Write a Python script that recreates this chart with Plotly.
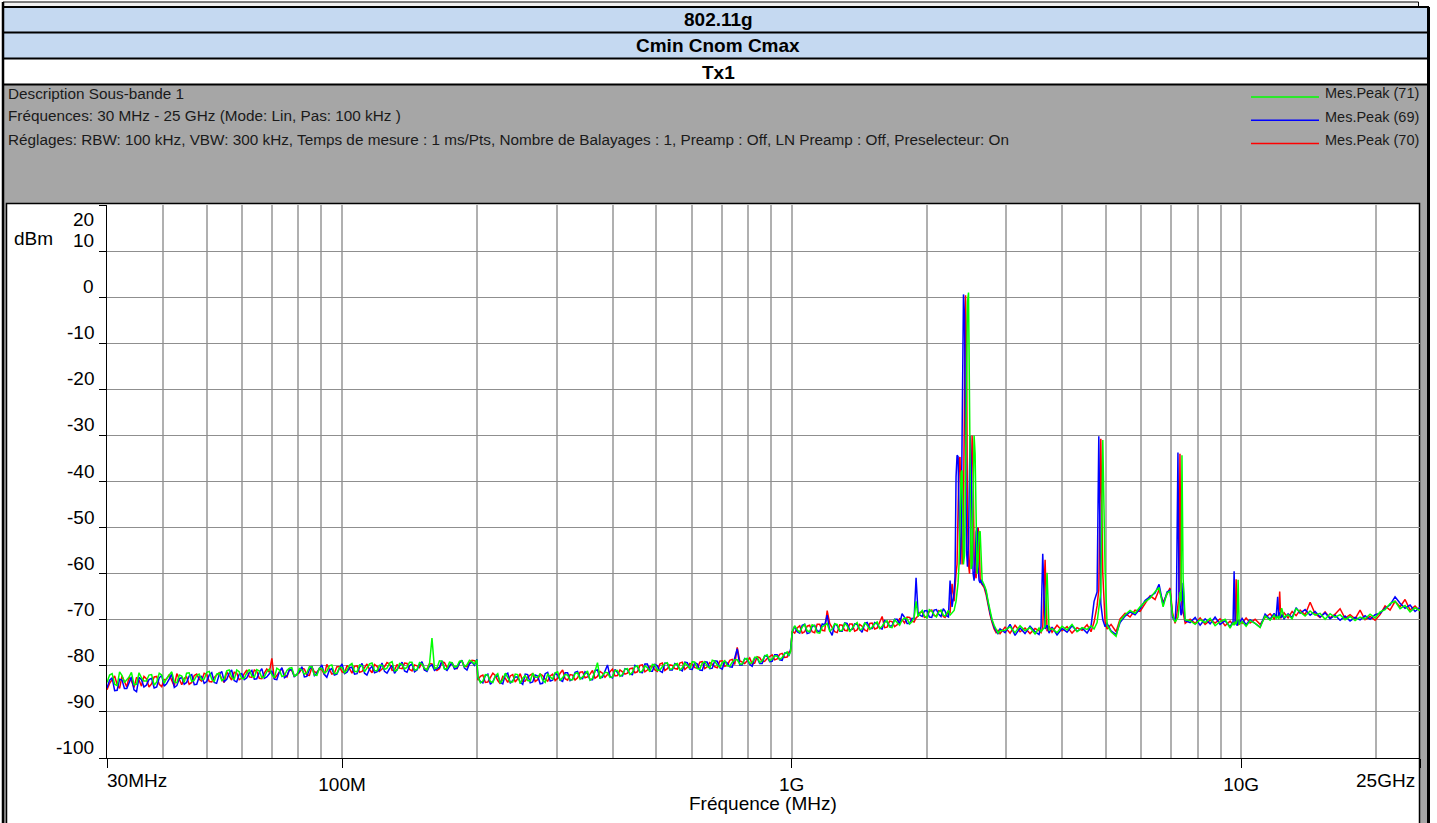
import math
import plotly.graph_objects as go

W, H = 1437, 823
FONT = "Liberation Sans, Arial, sans-serif"


def px(x):
    return x / W


def py(y):
    return 1 - y / H


# ---------------- data (frequency in MHz, level in dBm) ----------------
freq_low = [30, 30.8, 31.6, 32.4, 33.2, 34, 34.9, 35.8, 36.7, 37.7, 38.7, 39.7, 40.7, 41.8, 42.9,
            44, 45.1, 46.3, 47.5, 48.7, 50, 51.3, 52.6, 54, 55.4, 56.8, 58.3, 59.8, 61.4, 63,
            64.6, 66.3, 68, 69.8, 71.6, 73.5, 75.4, 77.3, 79.3, 81.4, 83.5, 85.7, 87.9, 90.2,
            92.5, 94.9, 97.4, 100, 102.6, 105.2, 108, 110.8, 113.6, 116.6, 119.6, 122.7, 125.9,
            129.2, 132.5, 136, 139.5, 143.1, 146.8, 150.6, 154.5, 158.5, 162.6, 166.8, 171.2,
            175.6, 180.2, 184.8, 189.6, 194.5, 199.5]
freq_low_b = [30.4, 31.2, 32.0, 32.8, 33.6, 34.45, 35.35, 36.25, 37.2, 38.2, 39.2, 40.2, 41.25,
              42.35, 43.45, 44.55, 45.7, 46.9, 48.1, 49.35, 50.65, 51.95, 53.3, 54.7, 56.1, 57.55,
              59.05, 60.6, 62.2, 63.8, 65.45, 67.15, 68.9, 70.7, 72.55, 74.45, 76.35, 78.3, 80.35,
              82.45, 84.6, 86.8, 89.05, 91.35, 93.7, 96.15, 98.7, 101.3, 103.9, 106.6, 109.4,
              112.2, 115.1, 118.1, 121.15, 124.3, 127.55, 130.85, 134.25, 137.75, 141.3, 144.95,
              148.7, 152.55, 156.5, 160.55, 164.7, 169.0, 173.4, 177.9, 182.5, 187.2, 192.05, 197.0]
freq_mid = [200.5, 205.7, 211, 216.5, 222, 227.8, 233.7, 239.7, 245.9, 252.3, 258.8, 265.5, 272.4,
            279.4, 286.7, 294.1, 301.7, 309.5, 317.5, 325.7, 334.1, 342.8, 351.6, 360.7, 370,
            379.6, 389.5, 399.5, 409.9, 420.5, 431.4, 442.5, 454, 465.7, 477.8, 490.2, 502.8,
            515.8, 529.2, 542.9, 557, 571.4, 586.2, 601.4, 617, 632.9, 649.3, 666.1, 683.4,
            701.1, 719.2, 737.8, 757, 776.5, 796.6, 817.3, 838.4, 860.1, 882.4, 905.3, 928.7,
            952.8, 977.5, 995, 1003]
freq_mid_b = [203.1, 208.35, 213.75, 219.25, 224.9, 230.75, 236.7, 242.8, 249.1, 255.55, 262.15,
              268.95, 275.9, 283.05, 290.4, 297.9, 305.6, 313.5, 321.6, 329.9, 338.45, 347.2,
              356.15, 365.35, 374.8, 384.55, 394.5, 404.7, 415.2, 425.95, 436.95, 448.25, 459.85,
              471.75, 484.0, 496.5, 509.3, 522.5, 536.05, 549.95, 564.2, 578.8, 593.8, 609.2,
              624.95, 641.1, 657.7, 674.75, 692.25, 710.15, 728.5, 747.4, 766.75, 786.55, 806.95,
              827.85, 849.25, 871.25, 893.85, 917.0, 940.75, 965.15, 986.2]
freq_c = [1029, 1056, 1083, 1111, 1140, 1170, 1200, 1231, 1263, 1296, 1329, 1364, 1399, 1435,
          1473, 1511, 1550, 1590, 1631, 1673, 1717, 1761, 1807, 1854, 1892, 1930, 1975, 2025,
          2075, 2125, 2175, 2215]
freq_c_b = [1016, 1042.5, 1069.5, 1097, 1125.5, 1155, 1185, 1215.5, 1247, 1279.5, 1312.5, 1346.5,
            1381.5, 1417, 1454, 1492, 1530.5, 1570, 1610.5, 1652, 1695, 1739, 1784, 1830.5, 1873,
            1911, 1952.5, 2000, 2050, 2100, 2150, 2195, 2233]
freq_peak = [2252, 2275, 2299, 2310, 2322, 2334, 2346, 2358, 2370, 2383, 2395, 2407, 2412, 2425,
             2437, 2450, 2462, 2475, 2488, 2495, 2508, 2521, 2534, 2547, 2560, 2573, 2586, 2600,
             2613, 2627, 2640, 2654, 2681, 2709, 2737, 2765, 2793, 2822, 2851, 2880, 2909]
freq_e = [2985, 3062, 3141, 3223, 3306, 3392, 3480, 3552, 3588, 3620, 3664, 3701, 3739, 3797,
          3895, 3996, 4100, 4206, 4316, 4428, 4543, 4636, 4709, 4782, 4824, 4874, 4924, 4982,
          5034, 5137, 5271, 5380, 5520, 5662, 5808, 5960, 6114, 6273, 6436, 6569, 6706, 6843,
          6949, 7038, 7130, 7180, 7236, 7274, 7311, 7350, 7386, 7430, 7480, 7509]
freq_high = [7700, 7902, 8106, 8316, 8532, 8752, 8979, 9212, 9451, 9597, 9648, 9700, 9748, 9800,
             9848, 9900, 10051, 10260, 10470, 10743, 11022, 11308, 11602, 11842, 11962, 12060,
             12120, 12185, 12250, 12310, 12462, 12721, 12985, 13254, 13529, 13880, 14240, 14609,
             14986, 15374, 15773, 16182, 16601, 17031, 17474, 17927, 18392, 18868, 19358, 19862,
             20377, 20905, 21447, 22003, 22574, 23159, 23759, 24375, 25000]

# Mes.Peak (69) - blue
blue_low = [-84.8, -82.6, -85.3, -83.1, -84.9, -82.4, -85.6, -83.0, -84.2, -82.7,
            -84.6, -82.1, -83.9, -81.8, -84.3, -82.5, -83.6, -81.9, -84.0, -82.3,
            -83.4, -81.5, -83.8, -81.2, -82.9, -80.9, -83.5, -81.7, -82.6, -81.0,
            -82.8, -80.6, -82.4, -81.1, -83.0, -80.4, -82.2, -80.8, -81.9, -80.2,
            -82.3, -80.1, -81.6, -79.8, -82.5, -80.6, -81.8, -79.6, -81.4, -80.3,
            -81.7, -79.5, -82.0, -80.1, -81.3, -79.4, -81.6, -79.9, -80.8, -79.2,
            -81.4, -79.6, -80.9, -79.1, -81.2, -79.8, -80.6, -78.9, -81.0, -79.3,
            -80.5, -78.8, -80.9, -79.2, -78.6]
blue_low_b = [-83.1, -85.4, -82.9, -84.9, -83.6, -85.2, -82.5, -84.6, -83.0, -84.8,
              -82.6, -84.4, -82.9, -84.7, -82.8, -84.0, -82.2, -84.1, -82.4, -83.8,
              -82.0, -83.6, -81.9, -83.4, -81.6, -83.2, -81.8, -83.0, -81.5, -82.9,
              -81.4, -82.7, -81.7, -82.9, -81.3, -82.6, -80.9, -82.3, -81.2, -82.4,
              -80.8, -82.1, -80.6, -81.9, -80.9, -82.0, -80.5, -81.7, -80.4, -81.8,
              -80.3, -81.6, -80.7, -81.5, -80.9, -81.2, -80.6, -81.6, -79.8, -81.1,
              -80.0, -81.3, -79.7, -80.9, -80.1, -81.0, -80.3, -80.6, -80.2, -80.7,
              -79.4, -80.5, -79.6, -79.9]
blue_mid = [-82.6, -83.7, -81.8, -83.4, -82.1, -83.9, -81.6, -83.2, -82.4, -84.0,
            -81.9, -83.5, -82.2, -83.8, -81.4, -83.1, -82.0, -83.4, -81.5, -82.9,
            -81.2, -82.8, -81.7, -83.0, -80.9, -82.5, -79.8, -82.6, -81.4, -82.2,
            -80.8, -81.9, -80.2, -81.5, -79.6, -81.2, -80.0, -81.4, -79.5, -80.9,
            -79.8, -81.1, -79.3, -80.8, -79.6, -81.0, -79.2, -80.5, -79.0, -80.7,
            -79.4, -80.3, -76.3, -79.8, -78.6, -80.1, -78.3, -79.5, -77.9, -79.0,
            -77.6, -78.8, -77.2, -76.4, -72.8]
blue_mid_b = [-83.4, -82.1, -84.0, -82.3, -83.6, -81.9, -83.8, -82.4, -83.5, -81.8,
              -83.7, -82.0, -83.9, -81.7, -83.3, -81.6, -83.1, -81.5, -83.2, -81.4,
              -82.7, -81.3, -83.0, -81.0, -82.6, -81.1, -82.3, -80.8, -82.1, -80.6,
              -81.8, -79.9, -81.4, -79.6, -81.2, -79.7, -81.1, -79.4, -80.9, -79.5,
              -80.8, -79.2, -80.7, -79.3, -80.9, -79.1, -80.6, -78.9, -80.4, -79.0,
              -80.2, -78.5, -79.8, -78.4, -79.7, -78.2, -79.5, -77.8, -79.1, -77.6,
              -78.7, -77.2, -77.9]
blue_c = [-72.6, -71.2, -73.0, -71.5, -72.4, -70.9, -69.0, -73.4, -71.3, -72.5, -70.8, -72.1,
          -71.0, -72.7, -70.6, -71.9, -70.9, -72.0, -70.5, -71.3, -69.9, -68.7, -70.8, -69.7,
          -60.9, -69.0, -68.1, -69.4, -67.9, -68.8, -67.6, -69.2]
blue_c_b = [-71.4, -72.9, -71.0, -72.8, -71.2, -72.6, -71.1, -72.3, -70.9, -72.5, -70.7, -72.2,
            -70.9, -72.1, -70.8, -71.9, -70.6, -71.8, -70.2, -71.4, -69.9, -70.9, -69.5, -70.8,
            -69.8, -68.4, -69.3, -68.0, -69.5, -67.8, -69.3, -68.1, -69.4]
blue_peak = [-61.5, -67.2, -64.0, -60.5, -39.0, -34.3, -34.6, -46.0, -58.0, -52.0, -20.0, -1.5,
             0.6, -4.0, -40.0, -55.0, -58.5, -53.0, -38.0, -30.0, -36.0, -55.0, -60.0, -61.5,
             -58.0, -51.0, -50.0, -58.5, -61.5, -62.0, -61.3, -62.2, -62.6, -64.0, -66.5, -68.6,
             -70.2, -71.6, -72.4, -73.1, -72.0]
blue_e = [-72.8, -71.0, -73.4, -71.8, -73.0, -71.4, -72.6, -73.2, -71.5, -55.7, -72.0, -71.2,
          -72.9, -71.6, -73.3, -71.9, -72.7, -71.3, -72.5, -71.8, -72.9, -71.4, -66.0, -64.0,
          -30.2, -66.5, -70.0, -71.5, -70.8, -72.4, -73.2, -70.6, -69.2, -68.3, -68.9, -67.6,
          -65.8, -65.0, -64.2, -62.3, -66.8, -64.0, -63.6, -69.5, -70.3, -65.5, -33.7, -64.0,
          -66.0, -69.0, -68.5, -62.0, -69.0, -70.2]
blue_high = [-70.6, -69.5, -71.2, -69.8, -70.9, -69.4, -71.0, -70.2, -71.5, -70.4, -59.5, -71.0,
             -70.2, -71.3, -70.0, -70.8, -69.7, -71.1, -70.0, -70.9, -71.6, -68.8, -69.9, -68.6,
             -69.5, -65.0, -69.3, -68.4, -69.6, -68.9, -69.8, -68.7, -69.5, -67.4, -68.6, -67.8,
             -69.0, -68.2, -69.4, -68.5, -69.8, -69.0, -70.1, -69.2, -70.3, -69.5, -70.0, -69.1,
             -69.9, -68.9, -68.6, -67.5, -66.8, -65.0, -66.4, -67.5, -66.8, -68.2, -67.3]

# Mes.Peak (70) - red
red_low = [-85.2, -83.0, -84.1, -82.2, -84.6, -83.3, -82.5, -84.4, -82.8, -83.9,
           -82.3, -84.5, -82.9, -83.2, -81.7, -84.1, -82.4, -83.6, -81.8, -83.3,
           -81.9, -83.5, -82.0, -82.9, -81.3, -83.1, -81.6, -82.7, -80.9, -82.5,
           -81.2, -82.8, -80.7, -78.4, -82.1, -80.6, -82.4, -81.0, -81.8, -80.5,
           -82.0, -80.3, -81.5, -80.9, -79.7, -81.8, -80.2, -81.3, -79.9, -81.6,
           -80.0, -81.2, -79.6, -81.5, -80.1, -80.8, -79.3, -81.0, -79.7, -80.6,
           -79.5, -81.1, -80.0, -79.2, -80.7, -79.6, -81.0, -79.1, -80.4, -79.4,
           -80.6, -79.0, -80.2, -78.8, -79.3]
red_low_b = [-83.8, -82.2, -84.9, -83.5, -82.4, -84.7, -83.1, -82.3, -84.6, -82.4,
             -84.0, -83.0, -81.9, -84.4, -82.8, -82.7, -84.0, -82.1, -82.9, -81.6,
             -83.4, -82.5, -81.5, -83.6, -82.2, -81.4, -83.0, -81.7, -82.4, -80.9,
             -82.7, -81.6, -81.4, -82.8, -81.3, -81.9, -80.8, -82.3, -81.5, -80.7,
             -82.1, -81.3, -80.6, -81.9, -80.8, -81.6, -80.2, -81.5, -80.6, -80.1,
             -81.4, -80.4, -80.8, -79.7, -81.2, -80.2, -79.6, -80.9, -80.5, -79.4,
             -80.8, -79.8, -80.4, -80.9, -79.5, -80.2, -80.6, -79.3, -80.0, -80.5,
             -79.2, -80.1, -79.4, -78.9]
red_mid = [-83.1, -82.0, -83.5, -81.6, -83.2, -82.3, -83.6, -81.9, -82.8, -83.4,
           -82.5, -81.7, -83.0, -82.1, -83.3, -81.8, -82.7, -80.9, -83.1, -82.0,
           -82.6, -81.3, -82.4, -81.0, -82.3, -81.6, -82.0, -80.7, -82.1, -81.3,
           -81.6, -80.5, -81.3, -79.8, -80.9, -80.1, -81.2, -79.4, -80.6, -79.9,
           -80.7, -79.2, -80.3, -79.7, -80.5, -79.1, -80.2, -79.6, -80.4, -78.9,
           -79.9, -78.6, -76.0, -79.2, -78.9, -79.6, -78.0, -79.1, -78.4, -77.6,
           -78.5, -77.3, -78.1, -76.8, -72.5]
red_mid_b = [-82.3, -83.6, -82.6, -82.1, -83.9, -82.7, -82.2, -83.5, -81.7, -83.3,
             -82.0, -83.4, -81.8, -82.9, -82.2, -83.2, -81.6, -82.8, -81.9, -83.1,
             -81.4, -82.6, -81.8, -82.7, -81.2, -82.5, -81.3, -82.2, -80.9, -81.8,
             -80.6, -81.5, -79.9, -81.3, -80.2, -80.9, -79.6, -81.0, -79.8, -80.6,
             -79.4, -80.8, -79.5, -80.4, -79.2, -80.6, -79.3, -80.2, -79.0, -80.1,
             -78.8, -79.7, -78.9, -79.5, -78.3, -79.4, -78.2, -79.0, -77.9, -78.7,
             -77.5, -78.2, -77.0]
red_c = [-71.8, -72.9, -71.4, -72.6, -71.0, -72.3, -68.0, -71.7, -72.8, -71.2, -72.4, -70.9,
         -72.2, -71.4, -72.5, -70.7, -71.8, -69.3, -71.6, -70.4, -71.1, -70.0, -69.4, -70.3,
         -69.6, -68.4, -69.5, -68.2, -69.1, -68.0, -69.3, -68.6]
red_c_b = [-72.9, -71.3, -72.6, -71.2, -72.8, -71.0, -72.4, -70.8, -72.6, -71.1, -72.3, -70.9,
           -72.5, -71.0, -72.2, -70.8, -72.0, -70.6, -71.7, -70.3, -71.5, -69.8, -70.7, -69.5,
           -70.5, -69.2, -68.3, -69.4, -67.9, -69.2, -68.1, -69.5, -68.2]
red_peak = [-68.5, -62.2, -66.0, -62.5, -60.0, -58.0, -40.0, -35.0, -34.7, -45.0, -58.0, -55.0,
            -45.0, -8.0, 0.4, -10.0, -48.0, -58.0, -60.0, -56.0, -40.0, -30.0, -36.0, -56.0,
            -60.0, -61.0, -57.0, -50.0, -52.0, -61.0, -62.0, -62.4, -63.0, -64.6, -67.0, -69.0,
            -70.6, -72.0, -72.8, -72.3, -73.0]
red_e = [-71.6, -72.9, -71.2, -72.6, -71.8, -73.0, -71.9, -72.4, -72.8, -71.6, -57.0, -72.5,
         -71.4, -72.7, -71.2, -72.4, -71.5, -72.9, -71.7, -72.3, -71.1, -72.6, -70.5, -67.0,
         -63.5, -30.7, -60.0, -70.5, -72.0, -71.0, -72.6, -69.8, -68.6, -69.4, -67.9, -68.2,
         -66.5, -64.8, -65.6, -63.5, -66.2, -64.6, -63.1, -68.5, -70.8, -69.5, -66.0, -65.0,
         -34.0, -62.5, -67.0, -68.5, -69.6, -70.8]
red_high = [-69.9, -70.8, -69.6, -71.0, -70.1, -70.7, -69.8, -71.3, -70.3, -71.1, -70.5, -70.9,
            -61.2, -70.6, -71.2, -70.1, -70.8, -69.6, -70.7, -69.9, -71.0, -69.5, -68.7, -69.8,
            -69.0, -69.6, -68.8, -63.9, -69.7, -69.2, -68.5, -69.6, -68.2, -69.1, -67.9, -68.9,
            -66.2, -68.7, -69.5, -68.3, -69.6, -68.8, -67.6, -69.7, -68.9, -69.8, -67.9, -70.0,
            -69.3, -70.1, -68.9, -67.0, -67.9, -66.0, -67.2, -65.6, -67.9, -67.0, -68.1]

# Mes.Peak (71) - green
green_low = [-83.6, -81.7, -84.3, -82.1, -83.0, -81.4, -84.0, -82.6, -83.3, -81.9,
             -83.5, -82.0, -82.8, -81.3, -83.7, -82.2, -81.6, -83.4, -82.1, -83.0,
             -81.4, -82.9, -81.8, -83.2, -81.1, -82.4, -80.9, -82.8, -81.5, -82.2,
             -80.8, -82.6, -81.3, -81.9, -80.5, -82.3, -81.0, -80.4, -82.0, -80.9,
             -81.5, -80.2, -82.1, -80.6, -81.2, -79.8, -81.6, -80.4, -80.9, -79.5,
             -81.3, -80.0, -80.6, -79.4, -81.1, -79.9, -80.5, -79.1, -81.0, -79.7,
             -80.3, -79.2, -80.8, -79.6, -80.9, -74.0, -80.4, -79.0, -80.6, -79.3,
             -80.1, -78.9, -79.8, -79.1, -78.7]
green_low_b = [-82.0, -84.0, -81.3, -83.6, -82.4, -84.1, -81.5, -83.3, -82.0, -84.2,
               -81.6, -83.8, -81.9, -83.5, -82.0, -83.6, -81.5, -83.1, -81.8, -82.9,
               -81.2, -83.4, -81.6, -82.8, -80.9, -83.0, -81.3, -82.7, -80.8, -82.5,
               -81.1, -82.4, -80.7, -82.6, -80.9, -82.1, -80.5, -82.2, -80.6, -81.8,
               -80.2, -82.0, -80.5, -81.6, -80.0, -81.7, -80.3, -81.5, -79.9, -81.2,
               -79.8, -81.3, -79.6, -81.0, -79.9, -80.8, -79.4, -81.1, -79.5, -80.7,
               -79.2, -80.9, -79.3, -80.5, -79.6, -80.6, -78.9, -80.7, -79.2, -80.3,
               -79.0, -80.2, -78.8, -79.6]
green_mid = [-82.4, -83.3, -82.0, -83.6, -81.7, -83.0, -82.6, -83.5, -81.9, -82.7,
             -83.2, -81.6, -82.5, -83.1, -81.8, -82.9, -81.3, -82.6, -82.0, -83.0,
             -81.5, -82.4, -81.1, -82.7, -79.3, -82.2, -81.5, -82.4, -81.0, -81.9,
             -80.6, -81.4, -80.0, -81.1, -80.4, -79.7, -81.0, -80.2, -79.3, -80.6,
             -79.5, -80.4, -79.9, -79.1, -80.6, -79.4, -80.1, -78.8, -79.8, -79.3,
             -80.0, -79.2, -78.7, -79.6, -78.4, -79.3, -78.1, -78.9, -77.6, -78.5,
             -77.9, -78.2, -77.0, -76.9, -72.6]
green_mid_b = [-83.7, -81.9, -83.4, -82.2, -83.8, -81.6, -83.5, -81.8, -83.9, -82.1,
               -83.3, -82.5, -81.7, -83.6, -82.4, -81.5, -83.2, -81.9, -83.0, -81.7,
               -82.9, -81.6, -83.1, -81.2, -82.8, -81.4, -82.5, -81.0, -82.3, -80.7,
               -81.9, -80.2, -81.4, -80.0, -81.3, -79.8, -80.9, -79.5, -80.8, -79.7,
               -80.9, -79.4, -80.6, -79.2, -80.7, -79.1, -80.5, -79.0, -80.3, -78.9,
               -80.1, -78.7, -79.6, -78.5, -79.5, -78.2, -79.3, -77.9, -78.9, -77.8,
               -78.6, -77.4, -77.8]
green_c = [-72.2, -71.6, -72.4, -71.1, -72.8, -71.5, -70.8, -72.0, -71.0, -72.3, -71.3, -71.8,
           -70.6, -72.0, -71.2, -71.6, -70.5, -71.4, -70.2, -71.7, -70.6, -70.1, -69.8, -70.4,
           -66.0, -68.6, -69.2, -67.8, -68.9, -68.3, -69.0, -68.5]
green_c_b = [-71.3, -72.7, -71.0, -72.6, -71.3, -72.9, -71.2, -72.5, -70.9, -72.4, -70.8, -72.6,
             -71.1, -72.2, -70.7, -72.1, -70.9, -71.9, -70.6, -71.6, -70.0, -71.2, -69.6, -70.9,
             -69.5, -69.3, -68.0, -69.6, -68.1, -69.4, -67.9, -69.2, -68.0]
green_peak = [-69.0, -68.4, -68.0, -67.0, -66.0, -64.0, -62.0, -58.0, -45.0, -38.0, -37.6, -48.0,
              -58.0, -56.0, -40.0, -12.0, -1.0, 1.0, -25.0, -50.0, -59.0, -58.0, -45.0, -30.0,
              -34.0, -55.0, -60.0, -57.0, -51.0, -50.8, -56.0, -61.5, -62.4, -63.6, -66.0, -68.2,
              -70.0, -71.2, -72.1, -72.9, -72.4]
green_e = [-72.3, -71.5, -72.8, -71.3, -72.4, -71.7, -73.1, -71.8, -72.6, -72.1, -71.5, -59.8,
           -72.2, -71.9, -72.8, -71.4, -72.2, -71.0, -72.6, -71.7, -72.1, -71.3, -72.0, -70.6,
           -68.0, -64.0, -31.0, -59.3, -71.2, -72.6, -73.6, -70.2, -68.9, -68.0, -68.6, -67.2,
           -66.1, -65.3, -63.9, -63.0, -67.2, -64.2, -63.8, -69.0, -70.5, -70.1, -69.5, -67.5,
           -64.0, -66.0, -34.3, -61.0, -67.0, -70.0]
green_high = [-70.2, -71.0, -70.0, -70.6, -69.7, -71.3, -70.4, -69.9, -71.8, -70.6, -71.2, -70.4,
              -70.9, -70.0, -61.3, -71.1, -70.4, -71.4, -70.2, -70.8, -71.7, -69.2, -70.1, -69.0,
              -69.7, -69.2, -69.9, -69.4, -68.8, -67.5, -69.5, -68.9, -69.8, -67.6, -68.4, -69.2,
              -68.1, -69.0, -68.6, -69.9, -68.7, -69.5, -68.9, -70.0, -69.3, -70.2, -69.4, -69.8,
              -68.8, -69.6, -68.3, -67.8, -66.5, -66.0, -67.6, -66.9, -68.3, -67.4, -68.0]

series_names = ["Mes.Peak (71)", "Mes.Peak (69)", "Mes.Peak (70)"]
series_colors = ["#00ff00", "#0000ff", "#ff0000"]

y_ticks = [20, 10, 0, -10, -20, -30, -40, -50, -60, -70, -80, -90, -100]
x_tick_vals = [30, 100, 1000, 10000, 25000]
x_tick_text = ["30MHz", "100M", "1G", "10G", "25GHz"]
x_grid_minor = [40, 50, 60, 70, 80, 90, 200, 300, 400, 500, 600, 700, 800, 900,
                2000, 3000, 4000, 5000, 6000, 7000, 8000, 9000, 20000]

info_lines = [
    "Description Sous-bande 1",
    "Fréquences: 30 MHz - 25 GHz (Mode: Lin, Pas: 100 kHz )",
    "Réglages: RBW: 100 kHz, VBW: 300 kHz, Temps de mesure : 1 ms/Pts, Nombre de Balayages : 1, "
    "Preamp : Off, LN Preamp : Off, Preselecteur: On",
]
header_rows = ["802.11g", "Cmin Cnom Cmax", "Tx1"]

# ---------------- assemble (merge the sweep segments in frequency order) ----------------
freq_all = (freq_low + freq_low_b + freq_mid + freq_mid_b + freq_c + freq_c_b
            + freq_peak + freq_e + freq_high)


def assemble(*parts):
    vals = []
    for p in parts:
        vals += p
    assert len(vals) == len(freq_all), (len(vals), len(freq_all))
    pairs = sorted(zip(freq_all, vals), key=lambda t: t[0])
    return [p[0] for p in pairs], [p[1] for p in pairs]


fx, blue = assemble(blue_low, blue_low_b, blue_mid, blue_mid_b, blue_c, blue_c_b,
                    blue_peak, blue_e, blue_high)
_, red = assemble(red_low, red_low_b, red_mid, red_mid_b, red_c, red_c_b,
                  red_peak, red_e, red_high)
_, green = assemble(green_low, green_low_b, green_mid, green_mid_b, green_c, green_c_b,
                    green_peak, green_e, green_high)

fig = go.Figure()
# draw order: red, blue, green (green on top)
for name, color, vals in [(series_names[2], series_colors[2], red),
                          (series_names[1], series_colors[1], blue),
                          (series_names[0], series_colors[0], green)]:
    fig.add_trace(go.Scatter(x=fx, y=vals, mode="lines", name=name,
                             line=dict(color=color, width=1.5), showlegend=False,
                             hoverinfo="x+y+name"))

X0, X1 = 107, 1420
Y0, Y1 = 205, 758
AXFONT = 19

shapes = []
ann = []

# header rows
row_y = [(7, 32), (33, 58), (59, 84)]
row_fill = ["#c5d9f1", "#c5d9f1", "#ffffff"]
for (a, b), fc, txt in zip(row_y, row_fill, header_rows):
    shapes.append(dict(type="rect", xref="paper", yref="paper", x0=px(4), x1=px(1428),
                       y0=py(a), y1=py(b), fillcolor=fc, line=dict(width=0), layer="below"))
    ann.append(dict(xref="paper", yref="paper", x=px(718), y=py((a + b) / 2 + 0.5), text="<b>%s</b>" % txt,
                    showarrow=False, xanchor="center", yanchor="middle",
                    font=dict(family=FONT, size=19, color="#000000")))
# gray info panel (also right strip)
shapes.append(dict(type="rect", xref="paper", yref="paper", x0=px(4), x1=px(1428),
                   y0=py(85), y1=py(823), fillcolor="#a6a6a6", line=dict(width=0), layer="below"))
# white plot box
shapes.append(dict(type="rect", xref="paper", yref="paper", x0=px(6.5), x1=px(1419.5),
                   y0=py(203.5), y1=py(824), fillcolor="#ffffff",
                   line=dict(color="#000000", width=1.5), layer="below"))
# top strip
shapes.append(dict(type="rect", xref="paper", yref="paper", x0=px(3), x1=px(1418.5),
                   y0=py(2), y1=py(7), fillcolor="#f2f2f2",
                   line=dict(color="#000000", width=1), layer="below"))
# row separator lines
for yy in [7, 32.5, 58.5, 84.5]:
    shapes.append(dict(type="line", xref="paper", yref="paper", x0=px(3), x1=px(1429),
                       y0=py(yy), y1=py(yy), line=dict(color="#000000", width=2), layer="above"))
# outer frame verticals
shapes.append(dict(type="line", xref="paper", yref="paper", x0=px(3), x1=px(3),
                   y0=py(2), y1=py(823), line=dict(color="#000000", width=2.5), layer="above"))
shapes.append(dict(type="line", xref="paper", yref="paper", x0=px(1428.5), x1=px(1428.5),
                   y0=py(7), y1=py(823), line=dict(color="#000000", width=3), layer="above"))

# info text
for i, t in enumerate(info_lines):
    ann.append(dict(xref="paper", yref="paper", x=px(6), y=py(93 + 23 * i), text=t,
                    showarrow=False, xanchor="left", yanchor="middle",
                    font=dict(family=FONT, size=15.3, color="#1a1a1a")))
# legend
for i, (n, c) in enumerate(zip(series_names, series_colors)):
    ly = 97 + 23.3 * i
    shapes.append(dict(type="line", xref="paper", yref="paper", x0=px(1251), x1=px(1319),
                       y0=py(ly), y1=py(ly), line=dict(color=c, width=1.5)))
    ann.append(dict(xref="paper", yref="paper", x=px(1421), y=py(93.5 + 23.3 * i), text=n,
                    showarrow=False, xanchor="right", yanchor="middle",
                    font=dict(family=FONT, size=14.5, color="#1a1a1a")))

# y tick labels
for v in y_ticks:
    top = v == y_ticks[0]
    ann.append(dict(xref="paper", yref="y", x=px(96), y=v, text=str(v), showarrow=False,
                    xanchor="right", yanchor="top" if top else "bottom", yshift=-2,
                    font=dict(family=FONT, size=AXFONT, color="#000000")))
ann.append(dict(xref="paper", yref="paper", x=px(12), y=py(238), text="dBm", showarrow=False,
                xanchor="left", yanchor="middle", font=dict(family=FONT, size=AXFONT, color="#000000")))
# x edge labels
ann.append(dict(xref="x", yref="paper", x=math.log10(x_tick_vals[0]), y=py(780), text=x_tick_text[0],
                showarrow=False, xanchor="left", yanchor="middle", xshift=-2,
                font=dict(family=FONT, size=AXFONT, color="#000000")))
ann.append(dict(xref="x", yref="paper", x=math.log10(x_tick_vals[-1]), y=py(780), text=x_tick_text[-1],
                showarrow=False, xanchor="right", yanchor="middle", xshift=-3,
                font=dict(family=FONT, size=AXFONT, color="#000000")))
ann.append(dict(xref="paper", yref="paper", x=px(763), y=py(803), text="Fréquence (MHz)",
                showarrow=False, xanchor="center", yanchor="middle",
                font=dict(family=FONT, size=AXFONT, color="#000000")))

fig.update_layout(
    width=W, height=H, autosize=False,
    margin=dict(l=0, r=0, t=0, b=0, pad=0),
    paper_bgcolor="#ffffff", plot_bgcolor="#ffffff",
    showlegend=False,
    shapes=shapes, annotations=ann,
    font=dict(family=FONT, size=AXFONT, color="#000000"),
    xaxis=dict(
        type="log", range=[math.log10(30), math.log10(25000)],
        domain=[px(X0), px(X1)], anchor="y",
        tickmode="array", tickvals=x_tick_vals,
        ticktext=[""] + x_tick_text[1:-1] + [""],
        ticks="outside", ticklen=9, tickcolor="#000000", tickwidth=1,
        tickfont=dict(family=FONT, size=AXFONT, color="#000000"),
        showgrid=True, gridcolor="#b0b0b0", gridwidth=1.6,
        minor=dict(tickmode="array", tickvals=x_grid_minor, showgrid=True,
                   gridcolor="#b0b0b0", gridwidth=1.6, ticks=""),
        showline=True, linecolor="#000000", linewidth=1, zeroline=False,
        fixedrange=True,
    ),
    yaxis=dict(
        range=[-100, 20], domain=[py(Y1), py(Y0)], anchor="x",
        tickmode="array", tickvals=y_ticks, showticklabels=False,
        ticks="outside", ticklen=7, tickcolor="#000000", tickwidth=1,
        showgrid=True, gridcolor="#8f8f8f", gridwidth=1.2,
        showline=True, linecolor="#000000", linewidth=1, zeroline=False,
        fixedrange=True,
    ),
)

fig.write_html("out.html", config={"displayModeBar": False},
               post_script="document.body.style.margin='0';document.body.style.overflow='hidden';")
